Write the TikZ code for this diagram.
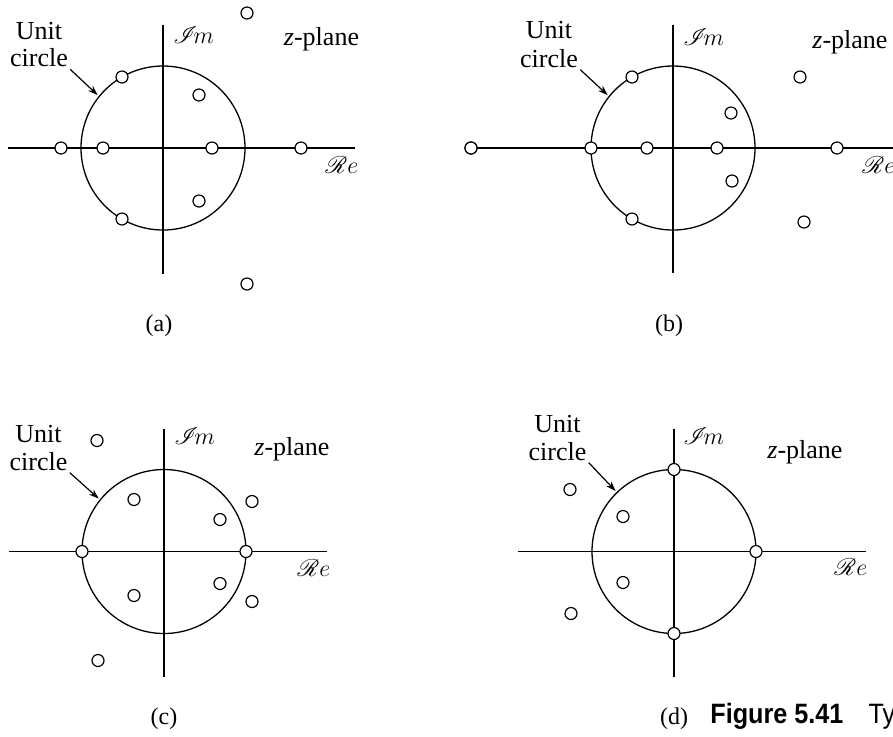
\documentclass[tikz,border=0pt]{standalone}
\usepackage{fontspec}
\setmainfont{Liberation Serif}
\newfontfamily\capfont{Liberation Sans}
\usepackage{mathrsfs}
\usetikzlibrary{arrows.meta}

\begin{document}
\begin{tikzpicture}[x=0.5pt, y=0.5pt,
    axis/.style={line width=0.65pt},
    ucirc/.style={line width=0.65pt},
    zeromark/.style={circle, draw, line width=0.6pt, fill=white, inner sep=0pt, minimum size=6pt},
    lbl/.style={font=\fontsize{13}{15}\selectfont, inner sep=1pt},
    sub/.style={font=\fontsize{12}{14}\selectfont, inner sep=1pt},
    ptr/.style={line width=0.6pt, -{Stealth[length=5pt, width=3.4pt]}}]
        \useasboundingbox (0,0) rectangle (893,-736);

        % First Diagram (a)
        \begin{scope}[shift={(163,-148)}]
            % Axes
            \coordinate (W) at (-155,0);
            \coordinate (E) at (192,0);
            \coordinate (N) at (0,123);
            \coordinate (S) at (0,-126);
            \coordinate (T) at (141:84);
            \draw[axis] (W) -- (E);
            \draw[axis] (N) -- (S);

            % Unit circle
            \draw[ucirc] (0,0) circle (82);

            % Labels
            \node[lbl, anchor=base] (unit) at (-124,108.7) {Unit};
            \node[lbl, anchor=base] (circ) at (-124,81.3) {circle};
            \draw[ptr] (circ.south east) -- (T);
            \node[lbl, anchor=base west] (im) at (8,104.7) {$\mathscr{I}\!m$};
            \node[lbl, anchor=base] (zp) at (158.5,103) {\textit{z}-plane};
            \node[lbl, anchor=base west] (re) at (160,-25) {$\mathscr{R}e$};
            \node[sub, anchor=base] (cap) at (-4,-183.7) {(a)};

            % Zeros
            \node[zeromark] (z1) at (84,135) {};
            \node[zeromark] (z2) at (-41,71) {};
            \node[zeromark] (z3) at (36,53) {};
            \node[zeromark] (z4) at (-102,0) {};
            \node[zeromark] (z5) at (-60,0) {};
            \node[zeromark] (z6) at (49,0) {};
            \node[zeromark] (z7) at (138,0) {};
            \node[zeromark] (z8) at (36,-53) {};
            \node[zeromark] (z9) at (-41,-71) {};
            \node[zeromark] (z10) at (84,-136) {};
        \end{scope}

        % Second Diagram (b)
        \begin{scope}[shift={(673,-148)}]
            % Axes
            \coordinate (E) at (220,0);
            \coordinate (N) at (0,123);
            \coordinate (S) at (0,-125);
            \coordinate (T) at (141:84);
            \node[zeromark] (z4) at (-202,0) {};
            \draw[axis] (z4.center) -- (E);
            \draw[axis] (N) -- (S);

            % Unit circle
            \draw[ucirc] (0,0) circle (82);

            % Labels
            \node[lbl, anchor=base] (unit) at (-124,110) {Unit};
            \node[lbl, anchor=base] (circ) at (-124,81) {circle};
            \draw[ptr] (circ.south east) -- (T);
            \node[lbl, anchor=base west] (im) at (8,103) {$\mathscr{I}\!m$};
            \node[lbl, anchor=base west] (zp) at (137,100) {\textit{z}-plane};
            \node[lbl, anchor=base west] (re) at (187,-25) {$\mathscr{R}e$};
            \node[sub, anchor=base] (cap) at (-4,-183.7) {(b)};

            % Zeros
            \node[zeromark] (z4) at (-202,0) {};
            \node[zeromark] (z1) at (127,71) {};
            \node[zeromark] (z2) at (-41,71) {};
            \node[zeromark] (z3) at (58,35) {};
            \node[zeromark] (z5) at (-82,0) {};
            \node[zeromark] (z6) at (-26,0) {};
            \node[zeromark] (z7) at (44,0) {};
            \node[zeromark] (z8) at (164,0) {};
            \node[zeromark] (z9) at (59,-33) {};
            \node[zeromark] (z10) at (-41,-71) {};
            \node[zeromark] (z11) at (131,-74) {};
        \end{scope}

        % Third Diagram (c)
        \begin{scope}[shift={(164,-551.5)}]
            % Axes
            \coordinate (W) at (-155,0);
            \coordinate (E) at (163,0);
            \coordinate (N) at (0,122.5);
            \coordinate (S) at (0,-125.5);
            \coordinate (T) at (141:84);
            \draw[axis] (W) -- (E);
            \draw[axis] (N) -- (S);

            % Unit circle
            \draw[ucirc] (0,0) circle (82);

            % Labels
            \node[lbl, anchor=base] (unit) at (-125.5,109.5) {Unit};
            \node[lbl, anchor=base] (circ) at (-125.5,81.5) {circle};
            \draw[ptr] (circ.south east) -- (T);
            \node[lbl, anchor=base west] (im) at (8,107) {$\mathscr{I}\!m$};
            \node[lbl, anchor=base west] (zp) at (88,96.5) {\textit{z}-plane};
            \node[lbl, anchor=base west] (re) at (131,-25) {$\mathscr{R}e$};
            \node[sub, anchor=base] (cap) at (0,-173) {(c)};

            % Zeros
            \node[zeromark] (z1) at (-67,111) {};
            \node[zeromark] (z2) at (-30,52) {};
            \node[zeromark] (z3) at (88,50) {};
            \node[zeromark] (z4) at (56,32) {};
            \node[zeromark] (z5) at (-82,0) {};
            \node[zeromark] (z6) at (82,0) {};
            \node[zeromark] (z7) at (56,-32) {};
            \node[zeromark] (z8) at (-30,-44) {};
            \node[zeromark] (z9) at (88,-50) {};
            \node[zeromark] (z10) at (-66,-109) {};
        \end{scope}

        % Fourth Diagram (d)
        \begin{scope}[shift={(674,-551.5)}]
            % Axes
            \coordinate (W) at (-156,0);
            \coordinate (E) at (192,0);
            \coordinate (N) at (0,122.5);
            \coordinate (S) at (0,-125.5);
            \coordinate (T) at (134:84);
            \draw[axis] (W) -- (E);
            \draw[axis] (N) -- (S);

            % Unit circle
            \draw[ucirc] (0,0) circle (82);

            % Labels
            \node[lbl, anchor=base] (unit) at (-116.5,119.5) {Unit};
            \node[lbl, anchor=base] (circ) at (-116.5,91.5) {circle};
            \draw[ptr] (circ.south east) -- (T);
            \node[lbl, anchor=base west] (im) at (7,107) {$\mathscr{I}\!m$};
            \node[lbl, anchor=base west] (zp) at (91,93.5) {\textit{z}-plane};
            \node[lbl, anchor=base west] (re) at (158,-24) {$\mathscr{R}e$};
            \node[sub, anchor=base] (cap) at (0,-173) {(d)};
            \node[anchor=base west, inner sep=0pt, xscale=0.9,
                  font=\capfont\fontsize{14}{16}\selectfont] (fig) at (36,-172)
                  {\textbf{Figure 5.41}\quad Typical};

            % Zeros
            \node[zeromark] (z1) at (0,82) {};
            \node[zeromark] (z2) at (0,-82) {};
            \node[zeromark] (z3) at (82,0) {};
            \node[zeromark] (z4) at (-104,62) {};
            \node[zeromark] (z5) at (-51,35) {};
            \node[zeromark] (z6) at (-51,-31) {};
            \node[zeromark] (z7) at (-103,-62) {};
        \end{scope}

    \end{tikzpicture}
\end{document}
